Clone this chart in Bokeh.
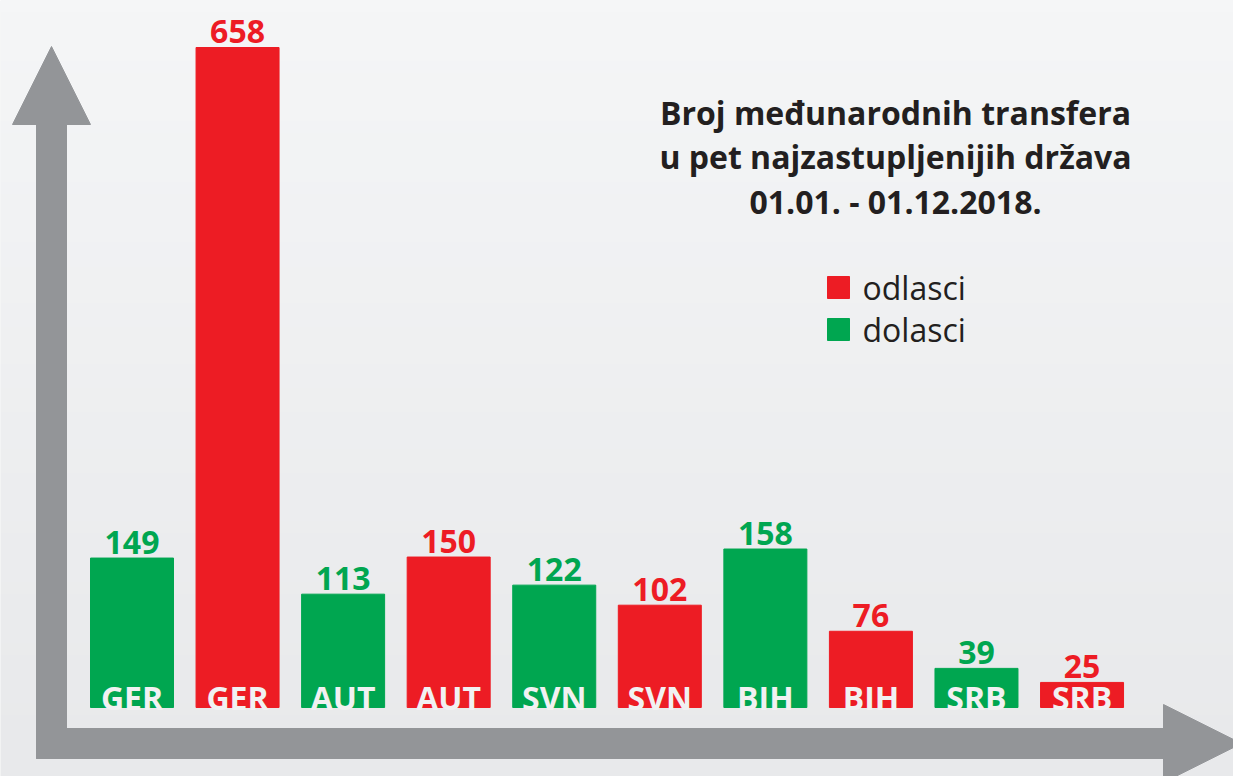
import numpy as np
from bokeh.plotting import figure
from bokeh.models import Range1d, ColumnDataSource
from bokeh.core.properties import value
from bokeh.embed import file_html
from bokeh.resources import INLINE

# ---- data ----
countries = ["GER", "AUT", "SVN", "BIH", "SRB"]
dolasci = [149, 113, 122, 158, 39]
odlasci = [658, 150, 102, 76, 25]
title_lines = ["Broj međunarodnih transfera", "u pet najzastupljenijih država", "01.01. - 01.12.2018."]
legend_labels = ["odlasci", "dolasci"]

GREEN = "#00a650"
RED = "#ed1c24"
GRAY = "#939598"
DARK = "#231f20"
FONT = value("Open Sans")

W, H = 1233, 776
# pixel geometry -> data mapping
X0, XS = 131.5, 105.56      # pixel of x=0, pixels per category step
Y0, YS = 707.0, 660.0 / 658  # pixel of y=0, pixels per unit

def dx(px):
    return (px - X0) / XS

def dy(py):
    return (Y0 - py) / YS

# the svg renderer draws alphabetic text lower than expected; compensate
def shift(fs):
    return -round(0.34 * fs)

xs, tops, colors, labels = [], [], [], []
for i, c in enumerate(countries):
    xs += [2 * i, 2 * i + 1]
    tops += [dolasci[i], odlasci[i]]
    colors += [GREEN, RED]
    labels += [c, c]
src = ColumnDataSource(dict(x=xs, top=tops, color=colors, cat=labels,
                            val=[str(t) for t in tops]))

p = figure(width=W, height=H, x_range=Range1d(dx(0), dx(W)), y_range=Range1d(dy(H), dy(0)),
           output_backend="svg", toolbar_location=None, min_border=0)
p.axis.visible = False
p.grid.visible = False
p.outline_line_color = None
p.background_fill_color = "#eeeff0"
p.border_fill_color = "#eeeff0"

# background gradient
n = 64
top_c = np.array([0xf5, 0xf6, 0xf7])
bot_c = np.array([0xe8, 0xe9, 0xeb])
img = np.zeros((n, 1), dtype=np.uint32)
view = img.view(dtype=np.uint8).reshape((n, 1, 4))
for k in range(n):
    t = k / (n - 1)
    col = bot_c * (1 - t) + top_c * t  # row 0 is bottom
    view[k, 0, 0:3] = col.astype(np.uint8)
    view[k, 0, 3] = 255
p.image_rgba(image=[img], x=dx(0), y=dy(H), dw=dx(W) - dx(0), dh=dy(0) - dy(H))

# arrows
p.patch([dx(36), dx(66), dx(66), dx(36)], [dy(120), dy(120), dy(758), dy(758)], color=GRAY)
p.patch([dx(12), dx(90), dx(51)], [dy(124), dy(124), dy(46)], color=GRAY)
p.patch([dx(36), dx(1166), dx(1166), dx(36)], [dy(728), dy(728), dy(758), dy(758)], color=GRAY)
p.patch([dx(1163), dx(1163), dx(1241)], [dy(704), dy(782), dy(743)], color=GRAY)

# bars
p.vbar(x="x", top="top", bottom=0, width=83 / XS, color="color", source=src)

# value labels
p.text(x="x", y="top", text="val", source=src, text_color="color", text_align="center",
       text_baseline="alphabetic", y_offset=-5 + shift(32), text_font=FONT,
       text_font_style="bold", text_font_size="32px")

# category labels inside bars
p.text(x="x", y=0, text="cat", source=src, text_color="#f1f1f2", text_align="center",
       text_baseline="alphabetic", y_offset=1 + shift(32), text_font=FONT,
       text_font_style="bold", text_font_size="32px")

# title
p.text(x=[dx(895)] * 3, y=[dy(123), dy(167), dy(212)], text=title_lines, text_color=DARK,
       text_align="center", text_baseline="alphabetic", y_offset=shift(32), text_font=FONT,
       text_font_style="bold", text_font_size="32px")

# legend
p.quad(left=[dx(827)] * 2, right=[dx(849)] * 2, top=[dy(276), dy(318)],
       bottom=[dy(298), dy(340)], color=[RED, GREEN])
p.text(x=[dx(862)] * 2, y=[dy(298), dy(340)], text=legend_labels, text_color=DARK,
       text_align="left", text_baseline="alphabetic", y_offset=shift(32), text_font=FONT,
       text_font_size="32px")

open("out.html", "w").write(file_html(p, INLINE))
